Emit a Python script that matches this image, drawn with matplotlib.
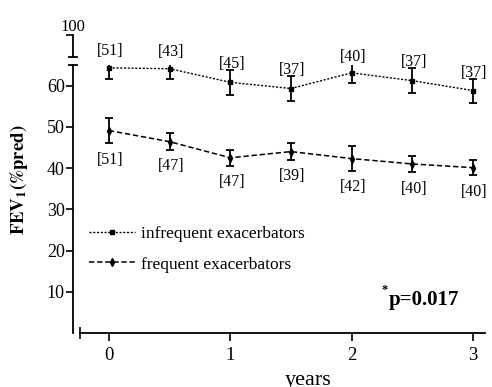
import numpy as np
import matplotlib
matplotlib.use("Agg")
import matplotlib.pyplot as plt

plt.rcParams["font.family"] = ["Liberation Serif", "DejaVu Serif"]
plt.rcParams["mathtext.fontset"] = "stix"

years = [0, 0.5, 1, 1.5, 2, 2.5, 3]
infreq_mean = [64.3, 64.1, 60.8, 59.3, 63.1, 61.2, 58.8]
infreq_sem = [2.6, 2.5, 3.0, 3.0, 2.5, 3.0, 2.9]
infreq_n = [51, 43, 45, 37, 40, 37, 37]
freq_mean = [49.1, 46.4, 42.5, 44.0, 42.3, 41.0, 40.1]
freq_sem = [3.1, 2.0, 2.0, 2.0, 3.0, 2.0, 1.9]
freq_n = [51, 47, 47, 39, 42, 40, 40]

W, H = 492, 387
fig = plt.figure(figsize=(W / 100, H / 100), dpi=100)

# main panel: y 0..65, axis from px 73 to 485, 65 to 333
ax = fig.add_axes([73 / W, (H - 333) / H, (485 - 73) / W, (333 - 65) / H])
px_per_yr = 121.33
x0 = (73 - 109) / px_per_yr
x1 = (485 - 109) / px_per_yr
ax.set_xlim(x0, x1)
ax.set_ylim(0, 65)

for s in ("top", "right"):
    ax.spines[s].set_visible(False)
for s in ("left", "bottom"):
    ax.spines[s].set_linewidth(1.3)
xstart = (80 - 109) / px_per_yr
ax.spines["bottom"].set_bounds(xstart, x1)

ax.set_xticks([0, 1, 2, 3])
ax.set_xticks([xstart], minor=True)
ax.tick_params(axis="x", which="major", direction="out", length=6, width=1.2,
               labelsize=13.5, pad=4)
ax.tick_params(axis="x", which="minor", direction="inout", length=8, width=1.2)
ax.set_yticks([10, 20, 30, 40, 50, 60])
ax.tick_params(axis="y", direction="out", length=5, width=1.2, labelsize=13, pad=1)

# break mark at the top of the lower axis
ax.plot([-0.009, 0.009], [1, 1], transform=ax.transAxes, color="k", lw=1.3, clip_on=False)

ebkw = dict(color="k", capsize=3.2, capthick=1.3, elinewidth=1.3)
ax.errorbar(years, infreq_mean, yerr=infreq_sem, ls=(0, (1.5, 1.2)), lw=1.0,
            marker="s", ms=3.5, label="infrequent exacerbators", **ebkw)
ax.errorbar(years, freq_mean, yerr=freq_sem, ls=(0, (3.5, 1.8)), lw=1.1,
            marker="d", ms=4, label="frequent exacerbators", **ebkw)

for x, m, e, n in zip(years, infreq_mean, infreq_sem, infreq_n):
    ax.annotate(f"[{n}]", (x, m + e), xytext=(1, -1.5), textcoords="offset points",
                ha="center", va="bottom", fontsize=11.5, annotation_clip=False)
for x, m, e, n in zip(years, freq_mean, freq_sem, freq_n):
    ax.annotate(f"[{n}]", (x, m - e), xytext=(1, -6), textcoords="offset points",
                ha="center", va="top", fontsize=11.5)

handles, labels = ax.get_legend_handles_labels()
handles = [h[0] for h in handles]
ax.legend(handles, labels, loc="upper left", bbox_to_anchor=(0.04, 0.398),
          frameon=False, fontsize=12.5, handlelength=2.6, handletextpad=0.35,
          labelspacing=0.8, borderpad=0, borderaxespad=0)

ax.text(0.765, 0.125, "p=0.017", transform=ax.transAxes, fontsize=15,
        fontweight="bold", ha="left", va="center")
ax.text(0.748, 0.16, "*", transform=ax.transAxes, fontsize=9,
        fontweight="bold", ha="left", va="center")

ax.set_ylabel(r"$\mathbf{FEV_1(\%pred)}$", fontsize=13.5, labelpad=2)
ax.yaxis.set_label_coords(-0.105, 0.57)
ax.set_xlabel("years", fontsize=16)
ax.xaxis.set_label_coords(0.57, -0.14)

# short upper segment of the broken y axis, holding only the 100 tick
ax2 = fig.add_axes([73 / W, (H - 57) / H, 0.01, 22 / H])
ax2.set_ylim(94.7, 100)
ax2.set_yticks([100])
ax2.set_yticklabels([""])
ax2.set_xticks([])
for s in ("top", "right", "bottom"):
    ax2.spines[s].set_visible(False)
ax2.spines["left"].set_linewidth(1.3)
ax2.tick_params(axis="y", direction="out", length=5, width=1.2)
ax2.patch.set_visible(False)
ax2.plot([-0.009 * 412 / 4.92, 0.009 * 412 / 4.92], [0, 0], transform=ax2.transAxes,
         color="k", lw=1.3, clip_on=False)
ax2.text(0, 1.02, "100", transform=ax2.transAxes, ha="center", va="bottom", fontsize=12)

fig.savefig("out.png", dpi=100)
